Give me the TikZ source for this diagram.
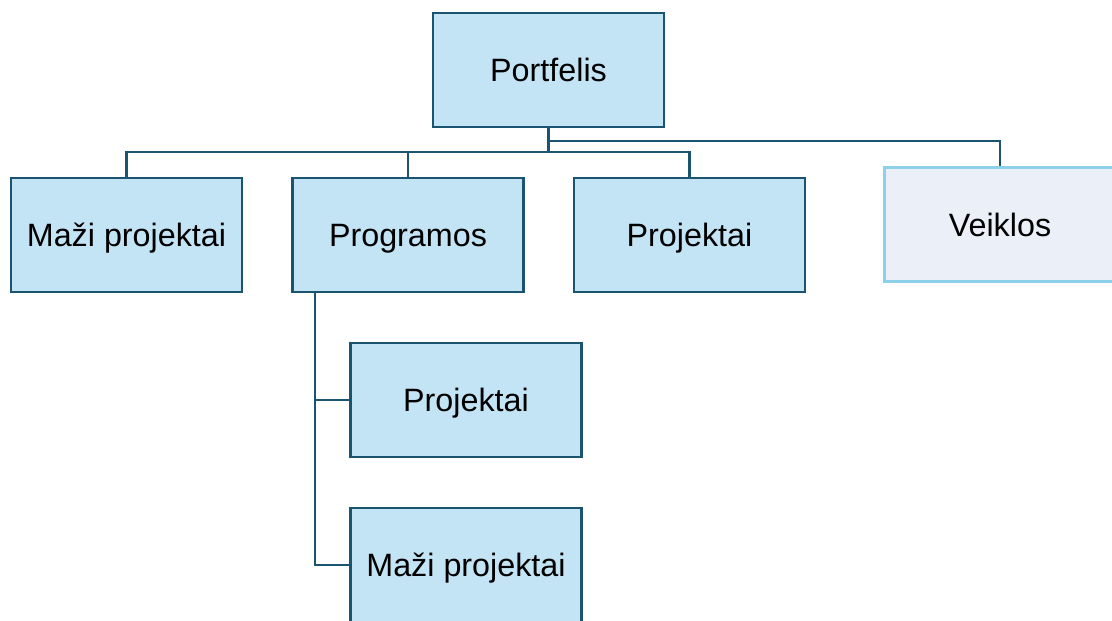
\documentclass[tikz,border=0pt]{standalone}
\usepackage{fontspec}
\setmainfont{Liberation Sans}
\definecolor{boxfill}{HTML}{C2E4F4}
\definecolor{boxline}{HTML}{1B5471}
\definecolor{actfill}{HTML}{EAEFF8}
\definecolor{actline}{HTML}{8DD0EC}
\tikzset{
  orgbox/.style={draw=boxline, fill=boxfill, line width=2.8pt, rectangle,
    minimum width=231pt, minimum height=114pt, inner sep=0pt,
    text height=23.1pt, text depth=0pt,
    font=\fontsize{32.3}{36}\selectfont},
  actbox/.style={orgbox, draw=actline, fill=actfill},
  conn/.style={draw=boxline, line width=2.8pt}
}
\begin{document}
\begin{tikzpicture}[x=1pt,y=-1pt]
\useasboundingbox (0,0) rectangle (1112,621);
\clip (0,0) rectangle (1112,621);
\coordinate (b1) at (548.5,152);
\coordinate (b2) at (548.5,141);
\coordinate (pv) at (315,293);
\node[orgbox] (port) at (548.5,70) {Portfelis};
\node[orgbox] (m1) at (126.5,235) {Maži projektai};
\node[orgbox] (prog) at (408,235) {Programos};
\node[orgbox] (pj) at (689.5,235) {Projektai};
\node[actbox] (veik) at (1000,224.5) {Veiklos};
\node[orgbox] (c1) at (466,400) {Projektai};
\node[orgbox] (c2) at (466,565) {Maži projektai};
\draw[conn] (port.south) -- (b1);
\draw[conn] (m1.north) |- (b1) -| (pj.north);
\draw[conn] (prog.north) -- (prog.north |- b1);
\draw[conn] (b2) -| (veik.north);
\draw[conn] (pv) |- (c2.west);
\draw[conn] (pv |- c1.west) -- (c1.west);
\end{tikzpicture}
\end{document}
